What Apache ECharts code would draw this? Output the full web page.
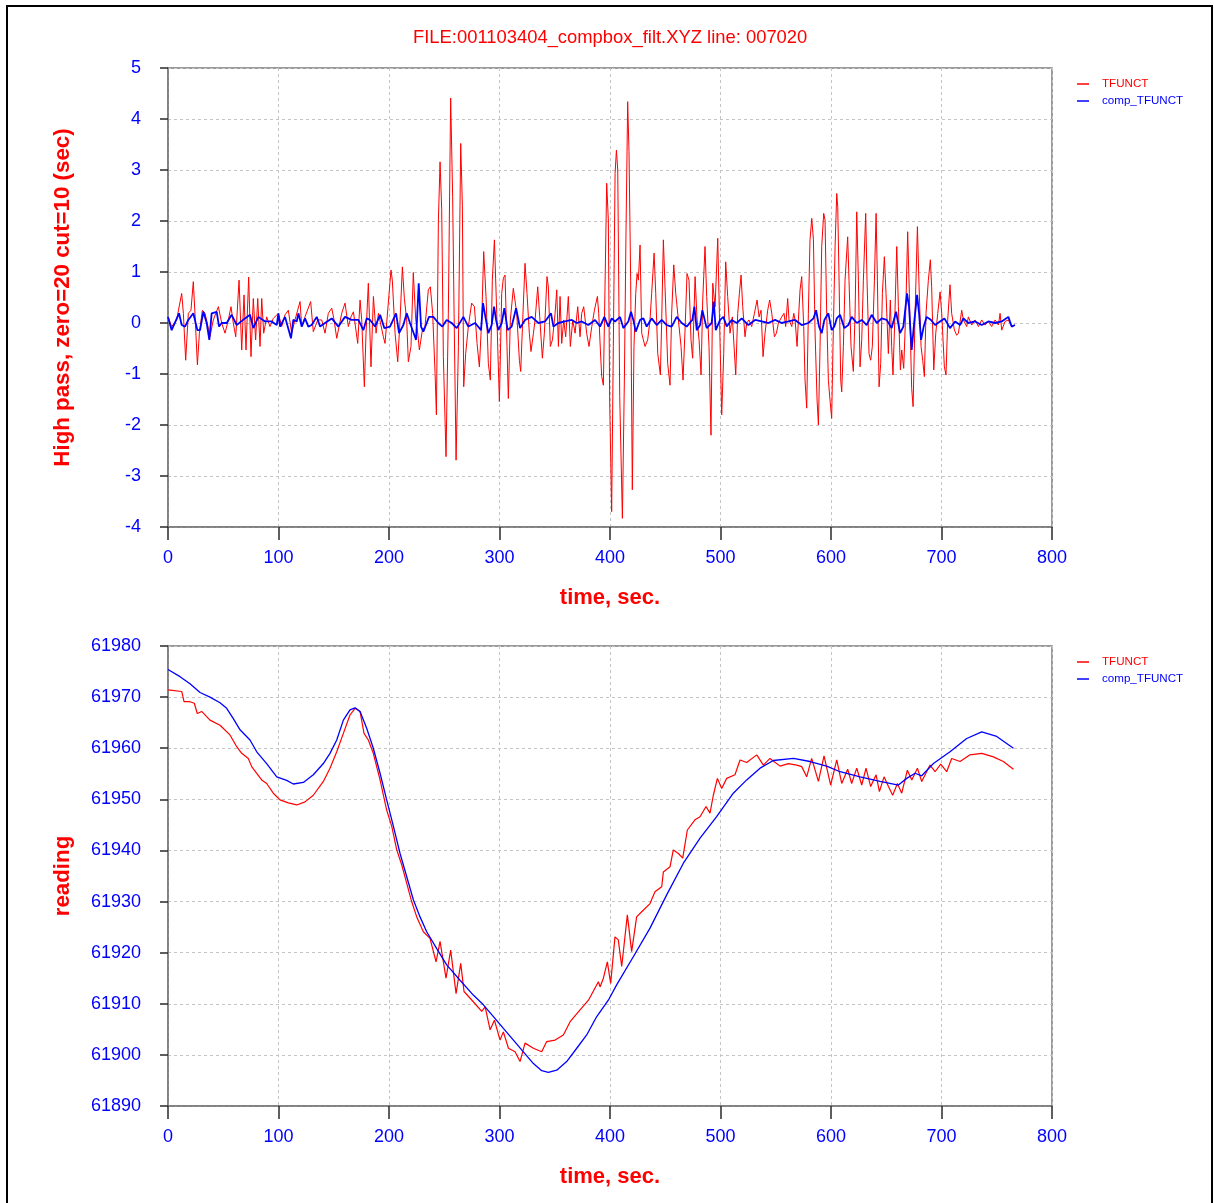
<!DOCTYPE html>
<html>
<head>
<meta charset="utf-8">
<title>TFUNCT</title>
<script src="https://cdn.jsdelivr.net/npm/echarts@6/dist/echarts.min.js"></script>
<style>
  html, body { margin: 0; padding: 0; background: #ffffff; }
  #chart { width: 1214px; height: 1203px; }
</style>
</head>
<body>
<div id="chart"></div>
<script>
// ---- data: [time (sec), value] ----
const titleText = 'FILE:001103404_compbox_filt.XYZ line: 007020';
const seriesNames = ['TFUNCT', 'comp_TFUNCT'];
const timeTicks = { min: 0, max: 800, step: 100 };
const highPassTicks = { min: -4, max: 5, step: 1 };
const readingTicks = { min: 61890, max: 61980, step: 10 };

// high pass, zero=20 cut=10
const hpTfunct = [
  [0,0.12],[3.3,-0.07],[7.8,0.06],[12.4,0.58],[13.9,0.19],[16,-0.73],[18.4,0.19],[20.8,0.25],[22.9,0.81],[24.4,0.19],
  [26.6,-0.82],[28.4,-0.2],[31.1,0.25],[33.5,0.19],[35.9,-0.04],[38,-0.27],[41,0.06],[45.6,0.32],[48.6,0],[51.6,-0.2],
  [54.6,0.06],[57,0.32],[59.1,0],[61.3,-0.27],[64.3,0.84],[66.7,-0.53],[68.8,0.55],[70.6,-0.53],[73,0.9],[75.1,-0.66],
  [77.2,0.48],[79.3,-0.33],[81.2,0.48],[83.3,-0.46],[84.8,0.48],[86.6,-0.2],[89.3,0.12],[92.3,-0.07],[95.3,0.09],[99.9,0.19],
  [102.9,-0.07],[105.9,0.16],[108.9,0.25],[111.9,-0.2],[114.9,0.06],[119.5,0.42],[121,-0.07],[124,0.12],[129.1,0.42],[131.5,-0.17],
  [135.5,0.06],[139.1,0.06],[142.1,-0.2],[145.1,0.19],[148.2,0.29],[150.3,0.06],[152.7,-0.3],[154.8,-0.07],[157.2,0.19],[160.2,0.39],
  [163.2,-0.07],[165.6,0.12],[167.8,0.22],[171.7,-0.4],[173.8,0.45],[175.3,0.06],[177.7,-1.25],[179.2,-0.2],[181.3,0.78],[183.7,-0.86],
  [185.9,0.52],[188.3,-0.2],[190.4,0.19],[194.9,-0.27],[196.4,-0.4],[201.8,1.04],[203,0.84],[205.5,-0.2],[207.9,-0.76],[210,0.06],
  [212.1,1.1],[213.9,0.48],[216,0.06],[217.5,-0.76],[219.9,-0.46],[222,0.99],[224.2,0.06],[226,-0.2],[227.5,-0.53],[230.2,-0.14],
  [232.6,-0.07],[235.6,0.65],[237.4,0.71],[239.5,0.19],[241.7,-0.99],[242.9,-1.8],[244.7,2.02],[246.2,3.16],[247.7,2.22],[249.2,-0.66],
  [251.6,-2.62],[253.7,0.19],[255.8,4.41],[257.6,2.48],[258.9,0.19],[260.7,-2.69],[262.8,-0.46],[264.9,3.52],[266.4,2.31],[267.6,-1.25],
  [269.4,-0.6],[271.8,-0.07],[274.8,0.39],[277.3,0.32],[279.7,-0.4],[281.8,-0.86],[283.9,0.06],[285.7,1.4],[287.8,0.52],[289.9,-0.79],
  [291.7,-1.12],[293.5,0.84],[295.4,1.63],[297.5,0.19],[299.9,-1.54],[302,0.58],[303.5,0.88],[305,0.94],[306.8,-0.46],[308,-1.48],
  [309.8,0.06],[312.5,0.68],[314.1,0.71],[315.6,0.19],[318,-0.73],[319.2,-0.95],[321,0.06],[323.1,1.17],[324.9,0.58],[327,-0.2],
  [328.5,-0.56],[330.7,-0.2],[332.2,0.06],[334.6,0.71],[336.4,0.12],[338.8,-0.69],[340.6,-0.2],[343,0.91],[344.2,0.71],[346,-0.46],
  [347.9,-0.33],[350.3,0.19],[351.8,0.65],[353.3,-0.46],[354.8,0.52],[356.3,-0.4],[358.1,0.06],[359.9,-0.27],[362.3,0.52],[364.1,-0.46],
  [366.3,0.06],[368.4,-0.2],[370.8,0.32],[372.9,-0.27],[374.4,0.19],[376.2,0.32],[378.9,-0.2],[381,-0.46],[383.5,-0.07],[385.9,0.25],
  [388.6,0.52],[389.8,0.19],[391.3,-0.53],[392.5,-1.05],[394,-1.22],[395.5,0.71],[397,2.74],[398.5,2.02],[399.7,-1.51],[401.5,-3.7],
  [403,-0.46],[404.6,2.93],[405.8,3.39],[407,3.0],[408.8,-1.44],[411.2,-3.83],[413,-1.12],[414.5,1.82],[416,4.34],[417.2,3.36],
  [418.7,0.84],[420.2,-3.27],[421.7,-0.46],[423.3,0.58],[424.5,0.97],[425.7,0.84],[427.2,1.53],[428.7,-0.2],[430.2,-0.33],[431.7,-0.46],
  [434.1,-0.33],[436.2,0.06],[437.7,0.58],[439.9,1.37],[441.4,0.58],[443.2,-0.6],[445.6,-1.02],[446.8,0.06],[448.3,1.63],[449.8,0.71],
  [452.2,-0.79],[454.3,-1.22],[455.8,0.19],[457.7,1.14],[459.5,0.58],[461.9,0.06],[464.3,-0.46],[466.1,-1.12],[467.9,-0.14],[469.7,0.97],
  [471.5,0.84],[473.3,-0.33],[474.8,-0.69],[477,0.91],[478.8,0.06],[480.6,-0.33],[482.4,-1.02],[483.9,0.45],[486,1.5],[487.5,0.52],
  [489.6,-0.46],[491.4,-2.2],[493,0.78],[495.1,0.32],[497.5,1.66],[499,0.19],[501.1,-1.8],[502.9,-0.6],[504.7,1.2],[506.5,0.52],
  [508.6,-0.2],[510.7,0.12],[513.8,-1.02],[515.6,0.19],[517.1,0.58],[518.6,0.94],[520.1,0.32],[522.2,-0.27],[523.7,0],[525.8,0.06],
  [528.2,-0.07],[530.7,0.19],[533.1,0.45],[534.9,0.12],[536.7,0.25],[538.5,-0.66],[540.3,-0.2],[542.7,0.25],[544.5,0.45],[546.4,0.19],
  [548.8,-0.27],[550.6,-0.2],[552.4,0],[555.4,0.12],[557.5,0.19],[559,-0.07],[560.8,0.48],[562,0.06],[564.5,-0.07],[566.3,0.19],
  [567.5,0.06],[569.3,-0.46],[570.5,0.06],[572,0.65],[573.5,0.91],[575.3,-0.07],[576.5,-1.12],[578,-1.67],[579.5,0.19],[581,1.63],
  [582.6,2.05],[584.1,1.63],[585.6,-0.2],[587.4,-1.51],[588.6,-2.0],[590.1,-0.46],[591.6,1.5],[593.4,2.15],[594.6,2.02],[596.1,0.19],
  [597.6,-1.12],[599.1,-1.51],[600.6,-1.87],[601.8,-0.46],[603.7,1.5],[605.2,2.54],[606.1,2.28],[607.3,0.84],[608.8,-1.12],[609.7,-1.35],
  [611.2,-0.46],[612.7,0.84],[615.1,1.69],[616.3,0.84],[618.1,-0.46],[620.2,-0.95],[621.8,0.19],[623.3,2.18],[624.8,0.84],[626.3,-0.86],
  [627.8,-0.33],[629.3,0.84],[631.4,2.15],[632.6,0.84],[634.4,-0.6],[635.9,-0.73],[637.4,-0.46],[639.3,0.84],[640.8,2.15],[642,0.84],
  [643.5,-1.25],[645,-0.79],[646.5,0.58],[648.3,1.3],[649.8,0.58],[651.9,-0.6],[653.7,0.45],[654.9,-0.46],[656.1,-1.02],[657.7,0.06],
  [659.5,1.5],[661,0.32],[662.8,-0.92],[664,-0.53],[665.8,-0.89],[667.6,0.19],[669.4,1.79],[670.9,0.58],[673,-1.28],[674.3,-1.64],
  [676.1,0.19],[678.2,1.89],[679.7,0.71],[681.5,-0.46],[683,-0.73],[684.5,-1.05],[686,0.19],[688.1,0.84],[689.9,1.24],[691.1,0.71],
  [693,-0.92],[694.8,-0.2],[696.6,0.19],[698.7,0.61],[700.2,0.19],[702.6,-0.86],[704.1,-1.02],[705.6,0.06],[707.7,0.75],[709.2,0.19],
  [711.7,-0.14],[713.8,-0.24],[715.3,-0.2],[718.3,0.25],[719.8,0.06],[722.8,-0.07],[724.3,0.12],[727.4,-0.04],[730.4,0.06],[733.4,-0.07],
  [736.4,0.06],[739.4,-0.04],[742.4,0.03],[745.4,-0.07],[748.5,0.06],[751.5,-0.04],[753,0.19],[754.5,-0.14],[757.5,0.03],[760.5,0.06],
  [763.5,-0.07],[766.5,-0.04]
];

const hpCompTfunct = [
  [0,0.12],[3.3,-0.14],[10,0.19],[12.4,-0.04],[15.4,-0.07],[18.4,0.06],[22.9,0.19],[26.6,-0.14],[29,-0.14],[32,0.22],
  [35,0],[37.4,-0.33],[39.5,0.19],[44.1,0.22],[46.2,-0.07],[48.6,0],[53.1,0],[57.6,0.16],[62.2,-0.04],[69.7,0.09],
  [74.2,0.16],[77.2,-0.1],[81.8,0.12],[87.8,0.03],[93.8,0.03],[98.4,-0.04],[99.9,0.19],[101.4,-0.07],[105.9,0.12],[111.3,-0.3],
  [113.4,0.06],[116.5,0.03],[118,0.19],[121,-0.07],[124,0.09],[127,-0.07],[130,-0.04],[134.6,0.12],[137.6,-0.07],[142.1,0],
  [148.2,0.09],[154.2,-0.07],[160.2,0.12],[166.2,0.06],[172.3,0.06],[176.8,-0.14],[179.8,0.09],[182.8,0.06],[187.4,-0.07],[191.9,0.16],
  [195.8,-0.1],[200.9,-0.07],[206.4,0.19],[209.1,-0.2],[213,-0.04],[216,0.19],[219,0],[223,-0.24],[224.5,-0.33],[226.9,0.78],
  [229,-0.07],[231.1,-0.17],[234.1,0],[236.2,0.12],[240.1,0.12],[244.7,0],[248.3,-0.07],[252.2,0.06],[256.7,0],[261.3,-0.1],
  [267.3,0.12],[271.8,-0.07],[277.9,0],[283.3,-0.14],[285.1,0.39],[287.5,0.09],[289.9,-0.2],[292.9,-0.04],[295.1,0.32],[296.9,0.06],
  [299,-0.14],[302,0],[304.4,0.29],[307.4,-0.14],[311,-0.07],[315,0.29],[318.6,-0.1],[323.1,0.06],[329.1,0.12],[335.2,0],
  [341.2,0.03],[346.6,0.19],[348.8,-0.07],[353.3,0],[359.3,0.03],[365.4,0.06],[369.9,0],[374.4,0.03],[380.4,-0.04],[386.5,0.06],
  [391,-0.07],[394.9,0.12],[398.5,-0.07],[401.5,0.09],[404.6,0.03],[409.1,0.12],[412.1,-0.1],[416.6,0.03],[419,0.22],[421.1,0.06],
  [423.3,-0.17],[427.2,0.06],[430.2,0.09],[433.2,-0.07],[437.7,0.09],[442.3,-0.04],[446.8,0.06],[451.3,-0.04],[455.8,-0.07],[460.4,0.12],
  [464.9,0],[469.4,-0.07],[474.5,0.06],[476.4,0.32],[478.5,-0.14],[481.5,-0.04],[483.6,0.25],[487.5,-0.1],[492,0],[493.9,0.42],
  [495.7,-0.14],[499.6,0.06],[502.6,0.12],[505.6,-0.07],[510.1,0.06],[514.7,0],[519.2,0.09],[525.2,-0.04],[531.3,0.06],[537.3,0.03],
  [543.3,0],[549.4,0.06],[555.4,0],[561.4,0.03],[567.5,0.06],[573.5,-0.04],[579.5,0],[584.1,0.09],[586.5,0.25],[589.2,-0.07],
  [591.6,-0.2],[594,0.06],[597.6,0.19],[600.6,-0.14],[603,-0.07],[605.2,0.09],[608.2,0.16],[612.1,-0.1],[615.7,-0.04],[618.7,0.12],
  [623.3,0],[627.8,0.06],[632.3,-0.04],[636.8,0.16],[641.4,0],[645.9,0.09],[650.4,0.06],[654.9,-0.1],[658.9,0.22],[662.5,-0.2],
  [665.5,-0.07],[668.8,0.58],[670.6,0.32],[673,-0.53],[675.5,0.06],[677.9,0.55],[679.7,0.19],[681.5,-0.33],[683.9,-0.07],[686.6,0.12],
  [690.5,0.06],[694.2,-0.04],[698.7,0.03],[702.6,0.09],[707.7,-0.1],[712.3,0.03],[716.8,-0.04],[719.8,0.09],[724.3,0],[730.4,0.03],
  [736.4,-0.04],[742.4,0.03],[748.5,0],[754.5,0.03],[760.5,0.12],[763.5,-0.07],[766.5,-0.04]
];

// raw reading
const readingTfunct = [
  [0,61971.4],[12.4,61971.1],[14.5,61969.1],[19.9,61969.1],[23.8,61968.8],[26.5,61966.8],[30.5,61967.2],[38,61965.5],[47.1,61964.5],[56.1,61962.6],
  [62.2,61960.3],[66.7,61959],[72.7,61958],[75.7,61956.4],[80.3,61955.1],[84.8,61953.8],[89.3,61953.1],[95.3,61951.2],[101.4,61949.9],[108.9,61949.3],
  [116.5,61948.9],[124,61949.5],[131.5,61950.8],[140.6,61953.5],[146.6,61956.1],[152.7,61959.3],[158.7,61962.9],[164.7,61966.5],[169.3,61967.8],[173.8,61967.2],
  [177.4,61962.9],[181.3,61961.6],[185.8,61959],[191.9,61953.8],[197.9,61947.9],[202.5,61944.7],[207,61940.1],[211.5,61937.2],[216,61933.6],[220.5,61930],
  [225.1,61927],[231.1,61924.1],[237.1,61922.8],[242.6,61918.2],[246.2,61922.2],[251.6,61915],[255.8,61920.5],[260.7,61912],[264.9,61917.9],[267.9,61912.4],
  [276.3,61910.4],[283.9,61908.5],[287,61909.4],[291.5,61904.9],[295.4,61906.8],[300.5,61902.9],[303.5,61904.5],[308.1,61901.3],[314.1,61900.6],[318.6,61898.7],
  [323.1,61902.3],[330.7,61901.3],[338.2,61900.6],[342.7,61902.6],[350.3,61902.9],[357.8,61903.9],[363.9,61906.5],[372.9,61908.8],[380.5,61910.7],[389.5,61914.3],
  [391,61913.3],[394,61915],[397.6,61918.2],[400.6,61914],[404.5,61923.1],[407.5,61922.5],[410.6,61917.3],[415.7,61927.4],[419.6,61920.2],[424.1,61927],
  [428.7,61928],[436.2,61929.6],[440.7,61931.9],[446.8,61932.9],[448.3,61935.8],[454.3,61936.8],[457.3,61940.1],[461.9,61939.4],[465.8,61938.5],[470,61944],
  [476.9,61946],[481.5,61946.6],[486.9,61948.6],[490.5,61947.3],[493.5,61950.8],[497.2,61954.1],[501.1,61952.1],[505.6,61954.1],[513.1,61954.8],[517.7,61957.7],
  [523.7,61957.2],[532.8,61958.7],[538.8,61956.7],[544.8,61958],[553.9,61956.5],[561.4,61957],[569,61956.7],[573.5,61956.4],[578,61954.4],[582.5,61958],
  [588.6,61953.5],[593.7,61958.5],[599.7,61952.8],[605.2,61957.7],[609.7,61953.1],[615.1,61955.9],[618.7,61953.1],[623.3,61956.1],[627.8,61952.8],[631.7,61956.1],
  [635.9,61952.5],[640.8,61954.8],[643.8,61951.5],[648,61954.4],[652,61952.5],[655.8,61950.8],[660.1,61953.1],[664,61951.2],[669.1,61955.7],[673.1,61953.8],
  [678.2,61956.1],[682.1,61953.5],[689.6,61956.7],[694.2,61955.4],[699.3,61956.9],[704.7,61955.4],[709.2,61958],[716.8,61957.4],[725.8,61958.7],[736.4,61959],
  [747,61958.3],[756,61957.4],[765.1,61955.9]
];

const readingCompTfunct = [
  [0,61975.4],[10.9,61974],[19.9,61972.6],[29,61970.9],[38,61970],[47.1,61968.9],[53.1,61967.8],[59.1,61965.8],[65.2,61963.6],[74.2,61961.6],
  [80.3,61959.3],[89.3,61957],[98.4,61954.4],[107.4,61953.7],[113.4,61953],[122.5,61953.3],[131.5,61954.8],[140.6,61957],[146.6,61959],[152.7,61961.6],
  [158.7,61965.5],[164.7,61967.5],[169.3,61967.9],[173.8,61967.2],[179.8,61963.9],[185.8,61960],[191.9,61955.1],[197.9,61949.9],[204,61944.7],[210,61939.4],
  [216,61934.9],[222.1,61930.3],[228.1,61927],[234.1,61924.1],[243.2,61920.8],[252.2,61917.6],[264.3,61914.6],[276.3,61911.7],[285.4,61909.8],[294.5,61907.5],
  [303.5,61905.2],[312.6,61902.9],[321.6,61900.6],[330.7,61898.3],[338.2,61896.9],[344.2,61896.6],[351.8,61897],[360.8,61898.7],[369.9,61901.3],[378.9,61903.9],
  [388,61907.5],[398.5,61910.7],[406,61913.7],[421.1,61919.2],[436.2,61924.8],[451.3,61931.3],[466.4,61937.5],[481.5,61942.4],[496.5,61946.6],[511.6,61951.2],
  [523.7,61953.8],[535.8,61956.1],[547.8,61957.6],[566,61958],[581,61957.4],[596.1,61956.5],[608.2,61955.4],[626.3,61954.4],[644.4,61953.5],[661,61952.8],
  [668.5,61954.1],[676.1,61955.1],[682.1,61954.6],[692.7,61957],[707.7,61959.3],[722.8,61961.9],[736.4,61963.2],[750,61962.3],[765.1,61960]
];

// ---- drawing ----
const FONT = "'Liberation Sans', Arial, Helvetica, sans-serif";
const RED = '#ff0000';
const BLUE = '#0000ff';

const frame = { show: true, borderColor: '#7a7a7a', borderWidth: 1.5, backgroundColor: '#ffffff' };
const dashed = { show: true, lineStyle: { color: '#c4c4c4', type: [3, 3], width: 1 } };
const tickStyle = { color: '#2a2a2a', width: 1.5 };
const plainNumber = (v) => String(v);

function timeAxis(gridIndex) {
  return {
    type: 'value', gridIndex, position: 'bottom',
    min: timeTicks.min, max: timeTicks.max, interval: timeTicks.step,
    name: 'time, sec.', nameLocation: 'middle', nameGap: 60,
    nameTextStyle: { color: RED, fontSize: 22, fontWeight: 'bold', fontFamily: FONT },
    axisLine: { show: true, onZero: false, lineStyle: { color: '#7a7a7a', width: 1.5 } },
    axisTick: { show: true, inside: false, length: 13, lineStyle: tickStyle },
    axisLabel: { color: BLUE, fontSize: 18, fontFamily: FONT, margin: 22, formatter: plainNumber },
    splitLine: dashed
  };
}

function valueAxis(gridIndex, ticks, name) {
  return {
    type: 'value', gridIndex, position: 'left',
    min: ticks.min, max: ticks.max, interval: ticks.step,
    name, nameLocation: 'middle', nameGap: 94, nameRotate: 90,
    nameTextStyle: { color: RED, fontSize: 22.3, fontWeight: 'bold', fontFamily: FONT },
    axisLine: { show: true, onZero: false, lineStyle: { color: '#7a7a7a', width: 1.5 } },
    axisTick: { show: true, inside: false, length: 8, lineStyle: tickStyle },
    axisLabel: { color: BLUE, fontSize: 18, fontFamily: FONT, margin: 27, formatter: plainNumber },
    splitLine: dashed
  };
}

function legendAt(top) {
  return {
    orient: 'vertical', left: 1077, top, padding: 0, itemGap: 3,
    itemWidth: 12, itemHeight: 1.5, icon: 'rect',
    selectedMode: false,
    textStyle: { fontSize: 11.6, fontFamily: FONT, lineHeight: 14, padding: [0, 0, 0, 8] },
    data: [
      { name: seriesNames[0], itemStyle: { color: RED }, textStyle: { color: RED } },
      { name: seriesNames[1], itemStyle: { color: BLUE }, textStyle: { color: BLUE } }
    ]
  };
}

function lineSeries(name, data, gridIndex, color, width) {
  return {
    type: 'line', name, data,
    xAxisIndex: gridIndex, yAxisIndex: gridIndex,
    showSymbol: false, symbol: 'none', smooth: false,
    lineStyle: { color, width }, itemStyle: { color },
    emphasis: { disabled: true }, silent: true,
    clip: true
  };
}

const chart = echarts.init(document.getElementById('chart'), null, { renderer: 'canvas' });
chart.setOption({
  animation: false,
  backgroundColor: '#ffffff',
  title: {
    text: titleText, left: 413, top: 29, padding: 0,
    textStyle: { color: RED, fontSize: 18.4, fontWeight: 'normal', fontFamily: FONT }
  },
  legend: [legendAt(77), legendAt(655)],
  grid: [
    Object.assign({ left: 168, top: 68, width: 884, height: 459 }, frame),
    Object.assign({ left: 168, top: 646, width: 884, height: 460 }, frame)
  ],
  xAxis: [timeAxis(0), timeAxis(1)],
  yAxis: [
    valueAxis(0, highPassTicks, 'High pass, zero=20 cut=10 (sec)'),
    valueAxis(1, readingTicks, 'reading')
  ],
  series: [
    lineSeries(seriesNames[0], hpTfunct, 0, RED, 1),
    lineSeries(seriesNames[1], hpCompTfunct, 0, BLUE, 1.8),
    lineSeries(seriesNames[0], readingTfunct, 1, RED, 1.2),
    lineSeries(seriesNames[1], readingCompTfunct, 1, BLUE, 1.3)
  ],
  graphic: [{
    type: 'rect', silent: true, z: 100,
    shape: { x: 7, y: 6, width: 1205, height: 1240 },
    style: { fill: 'none', stroke: '#000000', lineWidth: 2 }
  }]
});
</script>
</body>
</html>
